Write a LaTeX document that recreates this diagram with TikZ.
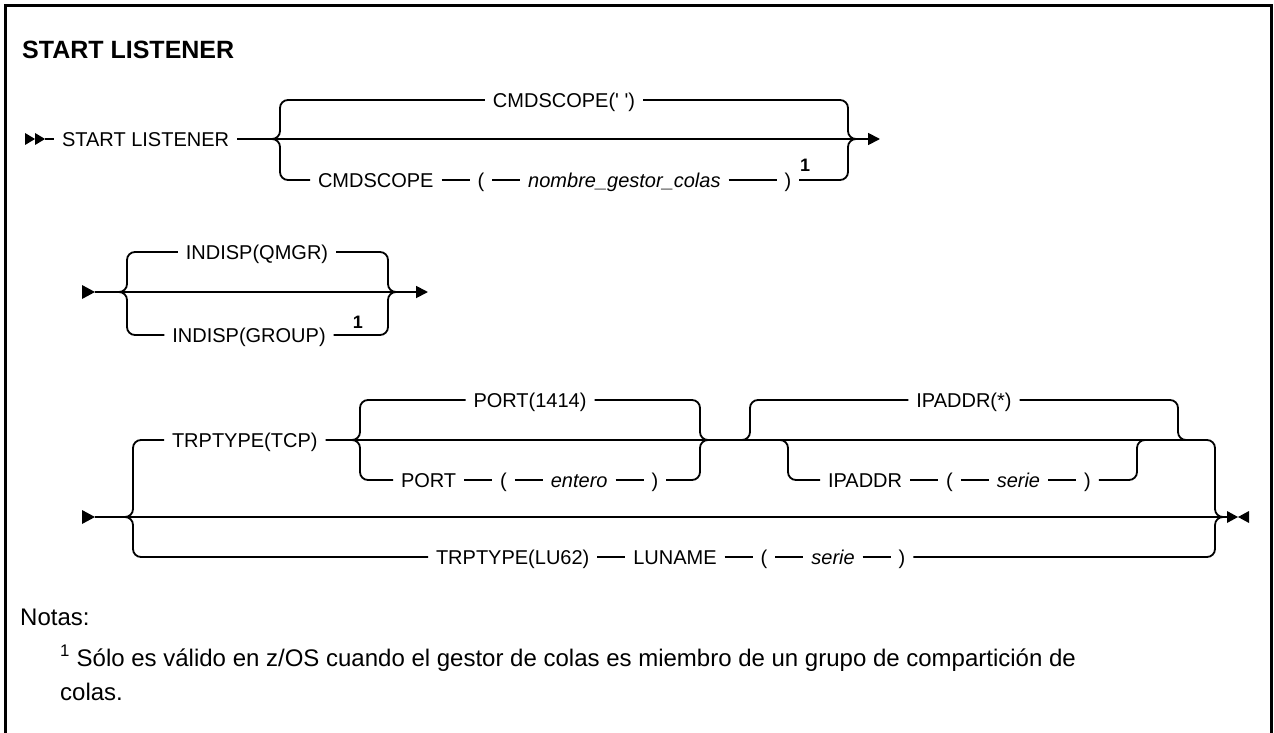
\documentclass[tikz,border=0pt]{standalone}
\usepackage{fontspec}
\setmainfont{Liberation Sans}
\usetikzlibrary{positioning,calc,arrows.meta}
\tikzset{
  tok/.style={inner sep=0pt, outer xsep=8pt, outer ysep=0pt, text height=14.3pt, text depth=0pt, font=\fontsize{20}{24}\selectfont},
  var/.style={tok, font=\fontsize{20}{24}\selectfont\itshape},
  fnum/.style={inner sep=0pt, font=\fontsize{18}{20}\selectfont\bfseries},
  rail/.style={line width=1.8pt, rounded corners=8pt},
  endtip/.style={-{Triangle[length=12pt,width=12pt]}},
  notetext/.style={anchor=base west, inner sep=0pt, font=\fontsize{24}{28}\selectfont},
}

\begin{document}
\begin{tikzpicture}[x=1pt,y=-1pt]
    \useasboundingbox (0,0) rectangle (1274,733);
    \draw[line width=3pt] (5.5,733) -- (5.5,6) -- (1271.5,6) -- (1271.5,733);
    \node[anchor=base west, inner sep=0pt, font=\fontsize{25}{30}\selectfont\bfseries] (title) at (22,59) {START LISTENER};

    \coordinate (r1s) at (45,139);
    \coordinate (b1l) at (280,139);
    \coordinate (b1r) at (848,139);
    \coordinate (r1e) at (880,139);
    \fill (25,133) -- (35,139) -- (25,145) -- cycle;
    \fill (35,133) -- (45,139) -- (35,145) -- cycle;
    \node[tok, anchor=west] (sl) at (54,139) {START LISTENER};
    \node[tok] (cq) at (564,100) {CMDSCOPE(\textquotesingle\ \textquotesingle)};
    \node[tok, anchor=west] (cs) at (310,180) {CMDSCOPE};
    \node[tok, right=28pt of cs] (lp1) {(};
    \node[var, right=28pt of lp1] (qm) {nombre\_gestor\_colas};
    \node[tok, right=48pt of qm] (rp1) {)};
    \node[fnum] (fn1) at (805,165) {1};
    \draw[rail] (r1s) -- (sl);
    \draw[rail, endtip] (sl) -- (r1e);
    \draw[rail] ($(b1l)+(-10,0)$) -| (b1l |- cq) -- (cq) -- (b1r |- cq) |- ($(b1r)+(10,0)$);
    \draw[rail] ($(b1l)+(-10,0)$) -| (b1l |- cs) -- (cs);
    \draw[rail] (cs) -- (lp1);
    \draw[rail] (lp1) -- (qm);
    \draw[rail] (qm) -- (rp1);
    \draw[rail] (rp1) -- (b1r |- rp1) |- ($(b1r)+(10,0)$);

    \coordinate (r2s) at (95,292);
    \coordinate (b2l) at (127,292);
    \coordinate (b2r) at (388,292);
    \coordinate (r2e) at (428,292);
    \fill (82,285) -- (95,292) -- (82,299) -- cycle;
    \node[tok] (iq) at (257,252) {INDISP(QMGR)};
    \node[tok] (ig) at (249,335) {INDISP(GROUP)};
    \node[fnum] (fn2) at (358,322) {1};
    \draw[rail, endtip] (r2s) -- (r2e);
    \draw[rail] ($(b2l)+(-10,0)$) -| (b2l |- iq) -- (iq) -- (b2r |- iq) |- ($(b2r)+(10,0)$);
    \draw[rail] ($(b2l)+(-10,0)$) -| (b2l |- ig) -- (ig) -- (b2r |- ig) |- ($(b2r)+(10,0)$);

    \coordinate (r3s) at (95,517);
    \coordinate (b3l) at (133,517);
    \coordinate (b3r) at (1215,517);
    \coordinate (r3e) at (1227,517);
    \coordinate (bpl) at (360,440);
    \coordinate (bpr) at (700,440);
    \coordinate (bal) at (750,440);
    \coordinate (bal2) at (788,440);
    \coordinate (bar2) at (1137,440);
    \coordinate (bar) at (1178,440);
    \fill (82,510) -- (95,517) -- (82,524) -- cycle;
    \fill (1227,511) -- (1238,517) -- (1227,523) -- cycle;
    \fill (1249,511) -- (1238,517) -- (1249,523) -- cycle;
    \node[tok, anchor=west] (tcp) at (164,440) {TRPTYPE(TCP)};
    \node[tok] (pd) at (530,400) {PORT(1414)};
    \node[tok, anchor=west] (pt) at (393,480) {PORT};
    \node[tok, right=28pt of pt] (lp2) {(};
    \node[var, right=28pt of lp2] (pv) {entero};
    \node[tok, right=28pt of pv] (rp2) {)};
    \node[tok] (ad) at (964,400) {IPADDR(*)};
    \node[tok, anchor=west] (ia) at (820,480) {IPADDR};
    \node[tok, right=28pt of ia] (lp3) {(};
    \node[var, right=28pt of lp3] (sv1) {serie};
    \node[tok, right=28pt of sv1] (rp3) {)};
    \node[tok, anchor=west] (lu) at (428,557) {TRPTYPE(LU62)};
    \node[tok, right=28pt of lu] (ln) {LUNAME};
    \node[tok, right=28pt of ln] (lp4) {(};
    \node[var, right=28pt of lp4] (sv2) {serie};
    \node[tok, right=28pt of sv2] (rp4) {)};
    \draw[rail] (r3s) -- (r3e);
    \draw[rail] ($(b3l)+(-10,0)$) -| (b3l |- tcp) -- (tcp);
    \draw[rail] (tcp) -- (b3r |- tcp) |- ($(b3r)+(10,0)$);
    \draw[rail] ($(bpl)+(-10,0)$) -| (bpl |- pd) -- (pd) -- (bpr |- pd) |- ($(bpr)+(10,0)$);
    \draw[rail] ($(bpl)+(-10,0)$) -| (bpl |- pt) -- (pt);
    \draw[rail] (pt) -- (lp2);
    \draw[rail] (lp2) -- (pv);
    \draw[rail] (pv) -- (rp2);
    \draw[rail] (rp2) -- (bpr |- rp2) |- ($(bpr)+(10,0)$);
    \draw[rail] ($(bal)+(-10,0)$) -| (bal |- ad) -- (ad) -- (bar |- ad) |- ($(bar)+(10,0)$);
    \draw[rail] ($(bal2)+(-10,0)$) -| (bal2 |- ia) -- (ia);
    \draw[rail] (ia) -- (lp3);
    \draw[rail] (lp3) -- (sv1);
    \draw[rail] (sv1) -- (rp3);
    \draw[rail] (rp3) -- (bar2 |- rp3) |- ($(bar2)+(10,0)$);
    \draw[rail] ($(b3l)+(-10,0)$) -| (b3l |- lu) -- (lu);
    \draw[rail] (lu) -- (ln);
    \draw[rail] (ln) -- (lp4);
    \draw[rail] (lp4) -- (sv2);
    \draw[rail] (sv2) -- (rp4);
    \draw[rail] (rp4) -- (b3r |- rp4) |- ($(b3r)+(10,0)$);

    \node[notetext] (notas) at (20,625) {Notas:};
    \node[notetext] (nt1) at (60,666) {\textsuperscript{1} Sólo es válido en z/OS cuando el gestor de colas es miembro de un grupo de compartición de};
    \node[notetext] (nt2) at (60,700) {colas.};
\end{tikzpicture}
\end{document}
